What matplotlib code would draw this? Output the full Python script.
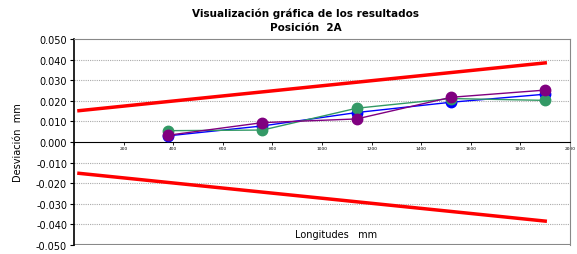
import matplotlib.pyplot as plt
import numpy as np

# measured lengths (mm)
longitudes = [380, 760, 1140, 1520, 1900]
serie_azul = [0.0030, 0.0078, 0.0143, 0.0193, 0.0232]
serie_verde = [0.0055, 0.0058, 0.0164, 0.0211, 0.0202]
serie_morada = [0.0033, 0.0094, 0.0112, 0.0217, 0.0252]

# tolerance band
tol_x = [20, 1900]
tol_sup = [0.0152, 0.0384]
tol_inf = [-0.0152, -0.0384]

y_ticks = np.arange(-0.05, 0.0501, 0.01)
x_ticks = np.arange(0, 2001, 200)

fig = plt.figure(figsize=(5.77, 2.55), dpi=100)
ax = fig.add_axes([74 / 577, 1 - 246 / 255, (570 - 74) / 577, (246 - 40) / 255])

for yv in y_ticks:
    if abs(yv) > 1e-9 and abs(abs(yv) - 0.05) > 1e-9:
        ax.axhline(yv, color='#aaaaaa', lw=0.8, ls=(0, (1, 1)), zorder=0)

ax.plot(tol_x, tol_sup, color='#ff0000', lw=2.5, zorder=2)
ax.plot(tol_x, tol_inf, color='#ff0000', lw=2.5, zorder=2)

ax.plot(longitudes, serie_azul, '-o', color='#0000ff', lw=1, ms=7.5, zorder=3)
ax.plot(longitudes, serie_verde, '-o', color='#339966', lw=1, ms=7.5, zorder=3)
ax.plot(longitudes, serie_morada, '-o', color='#800080', lw=1, ms=7.5, zorder=4)

ax.spines['bottom'].set_position(('data', 0))
ax.spines['bottom'].set_color('black')
ax.spines['left'].set_color('black')
ax.spines['left'].set_linewidth(1.2)
ax.spines['top'].set_color('#888888')
ax.spines['right'].set_color('#888888')

ax.set_xlim(0, 2000)
ax.set_ylim(-0.05, 0.05)
ax.set_yticks(y_ticks)
ax.set_yticklabels(['%.3f' % v for v in y_ticks])
ax.set_xticks(x_ticks)
ax.set_xticklabels(['' if v == 0 else str(v) for v in x_ticks])
ax.tick_params(axis='x', length=2, width=0.6, pad=1, labelsize=3.2)
ax.tick_params(axis='y', length=3, width=0.8, pad=2, labelsize=7)

# bottom border of the plot area
ax.axhline(-0.05, color='#888888', lw=1.5, zorder=1)

ax.text(890, -0.0445, 'Longitudes   mm', fontsize=7, va='center', ha='left')
fig.text(18 / 577, 1 - 143 / 255, 'Desviación  mm', rotation=90, fontsize=7,
         ha='center', va='center')

fig.text(306 / 577, 1 - 14 / 255, 'Visualización gráfica de los resultados', fontsize=7.5,
         fontweight='bold', ha='center', va='center')
fig.text(306 / 577, 1 - 28 / 255, 'Posición  2A', fontsize=7.5,
         fontweight='bold', ha='center', va='center')

fig.savefig('out.png', dpi=100)
